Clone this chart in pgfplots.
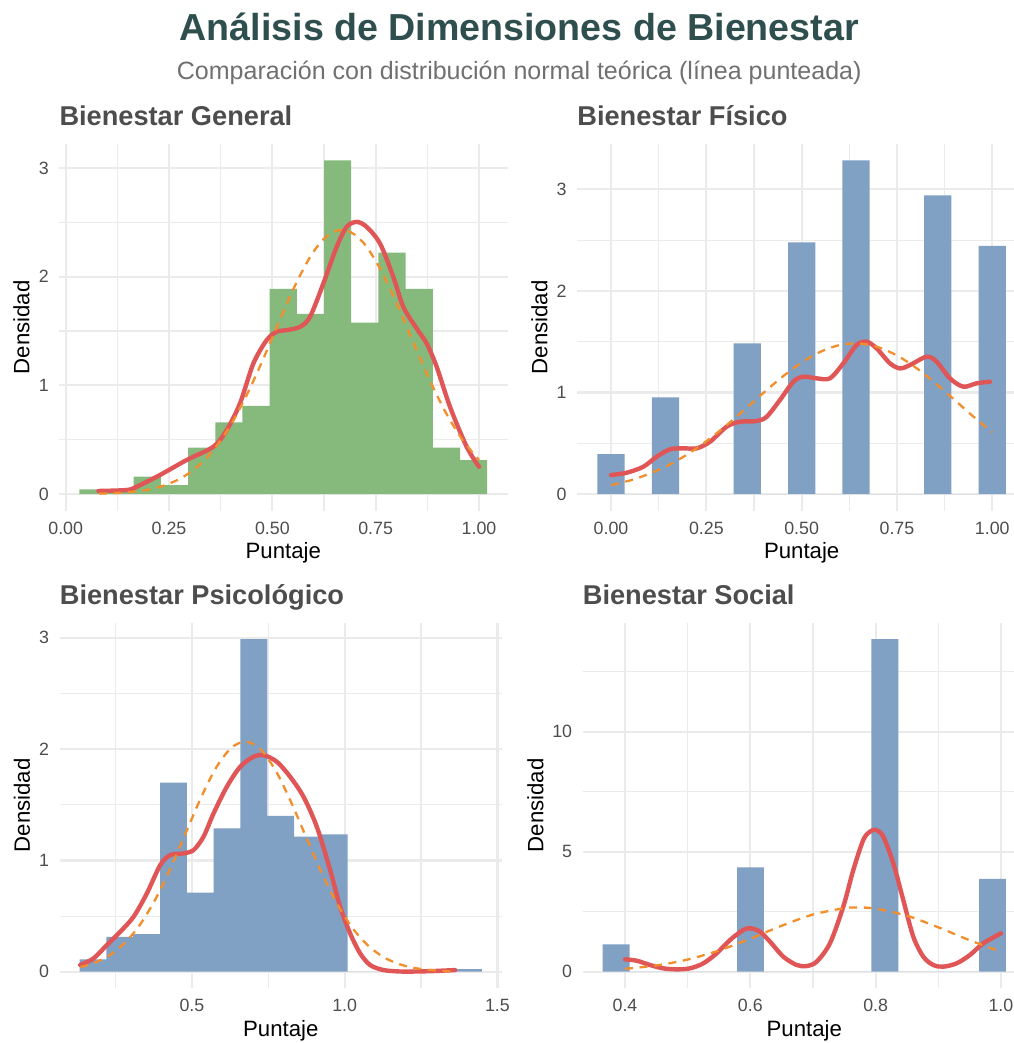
\documentclass[border=0pt]{standalone}
\usepackage{pgfplots}
\pgfplotsset{compat=1.18}
\usepackage{fontspec}
\setmainfont{Liberation Sans}
\definecolor{gridc}{HTML}{EBEBEB}
\definecolor{tickc}{HTML}{4D4D4D}
\definecolor{titc}{HTML}{4D4D4D}
\definecolor{maintit}{HTML}{2F4F4F}
\definecolor{subc}{HTML}{707070}
\definecolor{greenc}{HTML}{86BA7D}
\definecolor{bluec}{HTML}{80A0C4}
\definecolor{redc}{HTML}{E05555}
\definecolor{orangec}{HTML}{F28E2B}
\pgfplotsset{
 panel/.style={
  scale only axis,
  axis line style={draw=none},
  major tick length=0pt, minor tick length=0pt,
  tick style={draw=none},
  grid=both,
  major grid style={draw=gridc, line width=1.1pt},
  minor grid style={draw=gridc, line width=0.55pt},
  scaled ticks=false,
  ticklabel style={font=\fontsize{8.9}{10}\selectfont, text=tickc, inner sep=0pt},
  xticklabel style={anchor=north, yshift=-5.3pt},
  yticklabel style={anchor=east, xshift=-5pt},
  label style={font=\fontsize{11.1}{12}\selectfont, text=black},
  every axis title shift=0pt,
  title style={font=\fontsize{13.6}{15}\selectfont\bfseries, text=titc, anchor=base west, at={(axis description cs:0,1.049)}, inner sep=0pt},
  xlabel=Puntaje, ylabel=Densidad,
 },
 redline/.style={redc, line width=2.2pt, smooth, line join=round, line cap=round},
 orline/.style={orangec, line width=1.15pt, smooth, dash pattern=on 4pt off 3.3pt},
}
\begin{document}
\begin{tikzpicture}
\useasboundingbox (0pt,0pt) rectangle (506.5pt,-521.5pt);
\node[anchor=base, font=\fontsize{18.8}{21}\selectfont\bfseries, text=maintit, inner sep=0pt] at (259.65pt,-20.5pt) {Análisis de Dimensiones de Bienestar};
\node[anchor=base, font=\fontsize{12.52}{14}\selectfont, text=subc, inner sep=0pt] at (259.6pt,-39.65pt) {Comparación con distribución normal teórica (línea punteada)};

% Panel 1
\begin{axis}[panel, at={(29.55pt,-71.85pt)}, anchor=north west,
  width=224.2pt, height=183.5pt,
  xmin=-0.016, xmax=1.069, ymin=-0.1535, ymax=3.2235,
  xtick={0,0.25,0.5,0.75,1}, xticklabels={0.00,0.25,0.50,0.75,1.00},
  minor xtick={0.125,0.375,0.625,0.875},
  ytick={0,1,2,3}, yticklabels={0,1,2,3},
  minor ytick={0.5,1.5,2.5},
  title={Bienestar General},
  xlabel style={at={(axis description cs:0.5,-0.1297)}, anchor=base},
  ylabel style={at={(axis description cs:-0.0665,0.5)}, anchor=base},
]
\addplot[ybar interval, fill=greenc, draw=none] coordinates {
(0.0329,0.043)(0.0987,0.043)(0.1645,0.159)(0.2303,0.083)(0.2961,0.426)(0.3619,0.659)(0.4277,0.812)(0.4935,1.888)(0.5593,1.658)(0.6251,3.07)(0.6909,1.578)(0.7567,2.222)(0.8225,1.888)(0.8883,0.426)(0.9541,0.313)(1.0199,0)};
\addplot[redline] coordinates {
(0.079,0.028)(0.1475,0.037)(0.1717,0.067)(0.228,0.175)(0.2927,0.313)(0.3572,0.435)(0.3895,0.588)(0.4217,0.834)(0.454,1.201)(0.4863,1.416)(0.5105,1.493)(0.5347,1.508)(0.5669,1.538)(0.5911,1.630)(0.6234,1.937)(0.6556,2.274)(0.6798,2.458)(0.704,2.504)(0.7282,2.458)(0.7605,2.305)(0.7927,1.998)(0.8169,1.722)(0.8492,1.523)(0.8734,1.385)(0.8976,1.171)(0.9298,0.803)(0.9702,0.435)(1.0,0.251)};
\addplot[orline] coordinates {
(0.08,0.004)(0.12,0.009)(0.16,0.020)(0.20,0.041)(0.24,0.081)(0.28,0.148)(0.32,0.256)(0.36,0.417)(0.40,0.640)(0.44,0.926)(0.48,1.261)(0.52,1.619)(0.56,1.958)(0.60,2.233)(0.64,2.398)(0.68,2.426)(0.72,2.314)(0.76,2.079)(0.80,1.760)(0.84,1.404)(0.88,1.055)(0.92,0.747)(0.96,0.499)(1.00,0.314)};
\end{axis}

% Panel 2
\begin{axis}[panel, at={(288.5pt,-71.85pt)}, anchor=north west,
  width=224.65pt, height=183.5pt,
  xmin=-0.0893, xmax=1.0893, ymin=-0.164, ymax=3.449,
  xtick={0,0.25,0.5,0.75,1}, xticklabels={0.00,0.25,0.50,0.75,1.00},
  minor xtick={0.125,0.375,0.625,0.875},
  ytick={0,1,2,3}, yticklabels={0,1,2,3},
  minor ytick={0.5,1.5,2.5},
  title={Bienestar Físico},
  xlabel style={at={(axis description cs:0.5,-0.1297)}, anchor=base},
  ylabel style={at={(axis description cs:-0.0661,0.5)}, anchor=base},
]
\addplot[ybar interval, fill=bluec, draw=none] coordinates {
(-0.0357,0.394)(0.0357,0)(0.1071,0.952)(0.1786,0)(0.25,0)(0.3214,1.483)(0.3929,0)(0.4643,2.478)(0.5357,0)(0.6071,3.285)(0.6786,0)(0.75,0)(0.8214,2.941)(0.8929,0)(0.9643,2.442)(1.0357,0)};
\addplot[redline] coordinates {
(0,0.187)(0.041,0.210)(0.0848,0.269)(0.1198,0.368)(0.1547,0.440)(0.1897,0.450)(0.2247,0.450)(0.2596,0.515)(0.3033,0.663)(0.3383,0.712)(0.382,0.719)(0.4082,0.761)(0.4432,0.926)(0.4781,1.106)(0.5044,1.155)(0.5393,1.139)(0.5743,1.139)(0.6093,1.287)(0.6442,1.467)(0.6705,1.500)(0.6967,1.434)(0.7316,1.287)(0.7579,1.237)(0.7841,1.270)(0.8278,1.352)(0.854,1.303)(0.889,1.139)(0.924,1.057)(0.9589,1.090)(0.9939,1.106)};
\addplot[orline] coordinates {
(0,0.088)(0.05,0.134)(0.10,0.199)(0.15,0.283)(0.20,0.390)(0.25,0.520)(0.30,0.668)(0.35,0.830)(0.40,0.997)(0.45,1.156)(0.50,1.295)(0.55,1.402)(0.60,1.467)(0.65,1.482)(0.70,1.447)(0.75,1.364)(0.80,1.243)(0.85,1.094)(0.90,0.930)(0.95,0.764)(1.00,0.607)};
\end{axis}

% Panel 3
\begin{axis}[panel, at={(29.75pt,-311.25pt)}, anchor=north west,
  width=221.25pt, height=182.9pt,
  xmin=0.0667, xmax=1.515, ymin=-0.149, ymax=3.137,
  xtick={0.5,1,1.5}, xticklabels={0.5,1.0,1.5},
  minor xtick={0.25,0.75,1.25},
  ytick={0,1,2,3}, yticklabels={0,1,2,3},
  minor ytick={0.5,1.5,2.5},
  title={Bienestar Psicológico},
  xlabel style={at={(axis description cs:0.5,-0.1323)}, anchor=base},
  ylabel style={at={(axis description cs:-0.0667,0.5)}, anchor=base},
]
\addplot[ybar interval, fill=bluec, draw=none] coordinates {
(0.1325,0.111)(0.2203,0.314)(0.308,0.338)(0.3958,1.698)(0.4835,0.710)(0.5713,1.287)(0.659,2.988)(0.7468,1.401)(0.8345,1.213)(0.9223,1.234)(1.010,0)(1.0978,0)(1.1855,0)(1.2733,0)(1.361,0.024)(1.4488,0)};
\addplot[redline] coordinates {
(0.1347,0.060)(0.1783,0.120)(0.2219,0.240)(0.2655,0.359)(0.3092,0.494)(0.3528,0.704)(0.3964,0.958)(0.4291,1.048)(0.4727,1.063)(0.5055,1.093)(0.5382,1.213)(0.5709,1.422)(0.6145,1.662)(0.6581,1.841)(0.7017,1.931)(0.7345,1.946)(0.7781,1.886)(0.8217,1.751)(0.8653,1.572)(0.9089,1.302)(0.9526,0.913)(0.9853,0.584)(1.018,0.344)(1.0507,0.165)(1.0834,0.060)(1.127,0.015)(1.1816,0.002)(1.2361,0.002)(1.2906,0.006)(1.3615,0.015)};
\addplot[orline] coordinates {
(0.135,0.042)(0.18,0.078)(0.23,0.147)(0.28,0.257)(0.33,0.422)(0.38,0.648)(0.43,0.930)(0.48,1.247)(0.53,1.565)(0.58,1.836)(0.63,2.014)(0.68,2.067)(0.73,1.982)(0.78,1.778)(0.83,1.491)(0.88,1.169)(0.93,0.858)(0.98,0.588)(1.03,0.377)(1.08,0.226)(1.13,0.127)(1.18,0.067)(1.23,0.033)(1.28,0.015)(1.33,0.006)(1.361,0.004)};
\end{axis}

% Panel 4
\begin{axis}[panel, at={(291.25pt,-311.25pt)}, anchor=north west,
  width=221.75pt, height=182.9pt,
  xmin=0.3322, xmax=1.040, ymin=-0.6935, ymax=14.56,
  xtick={0.4,0.6,0.8,1}, xticklabels={0.4,0.6,0.8,1.0},
  minor xtick={0.5,0.7,0.9},
  ytick={0,5,10}, yticklabels={0,5,10},
  minor ytick={2.5,7.5,12.5},
  title={Bienestar Social},
  xlabel style={at={(axis description cs:0.5,-0.1323)}, anchor=base},
  ylabel style={at={(axis description cs:-0.0884,0.5)}, anchor=base},
]
\addplot[ybar interval, fill=bluec, draw=none] coordinates {
(0.3644,1.14)(0.4073,0)(0.4502,0)(0.4931,0)(0.536,0)(0.5789,4.35)(0.6218,0)(0.6647,0)(0.7076,0)(0.7505,0)(0.7934,13.87)(0.8363,0)(0.8792,0)(0.9221,0)(0.965,3.87)(1.0079,0)};
\addplot[redline] coordinates {
(0.4,0.515)(0.4186,0.459)(0.4399,0.278)(0.4612,0.139)(0.4824,0.097)(0.5037,0.139)(0.525,0.348)(0.5463,0.765)(0.5676,1.321)(0.5888,1.739)(0.6005,1.808)(0.6154,1.669)(0.6314,1.252)(0.6527,0.626)(0.6739,0.278)(0.6899,0.236)(0.7059,0.417)(0.7271,1.182)(0.7484,2.712)(0.7644,4.242)(0.7803,5.494)(0.791,5.841)(0.8005,5.911)(0.8122,5.633)(0.8282,4.520)(0.8441,2.990)(0.8601,1.460)(0.8761,0.626)(0.892,0.278)(0.908,0.209)(0.9293,0.348)(0.9505,0.695)(0.9718,1.182)(1.0,1.599)};
\addplot[orline] coordinates {
(0.40,0.119)(0.45,0.259)(0.50,0.506)(0.55,0.882)(0.60,1.375)(0.65,1.915)(0.70,2.382)(0.75,2.648)(0.772,2.677)(0.80,2.630)(0.85,2.334)(0.90,1.851)(0.95,1.311)(1.00,0.830)};
\end{axis}
\end{tikzpicture}
\end{document}
